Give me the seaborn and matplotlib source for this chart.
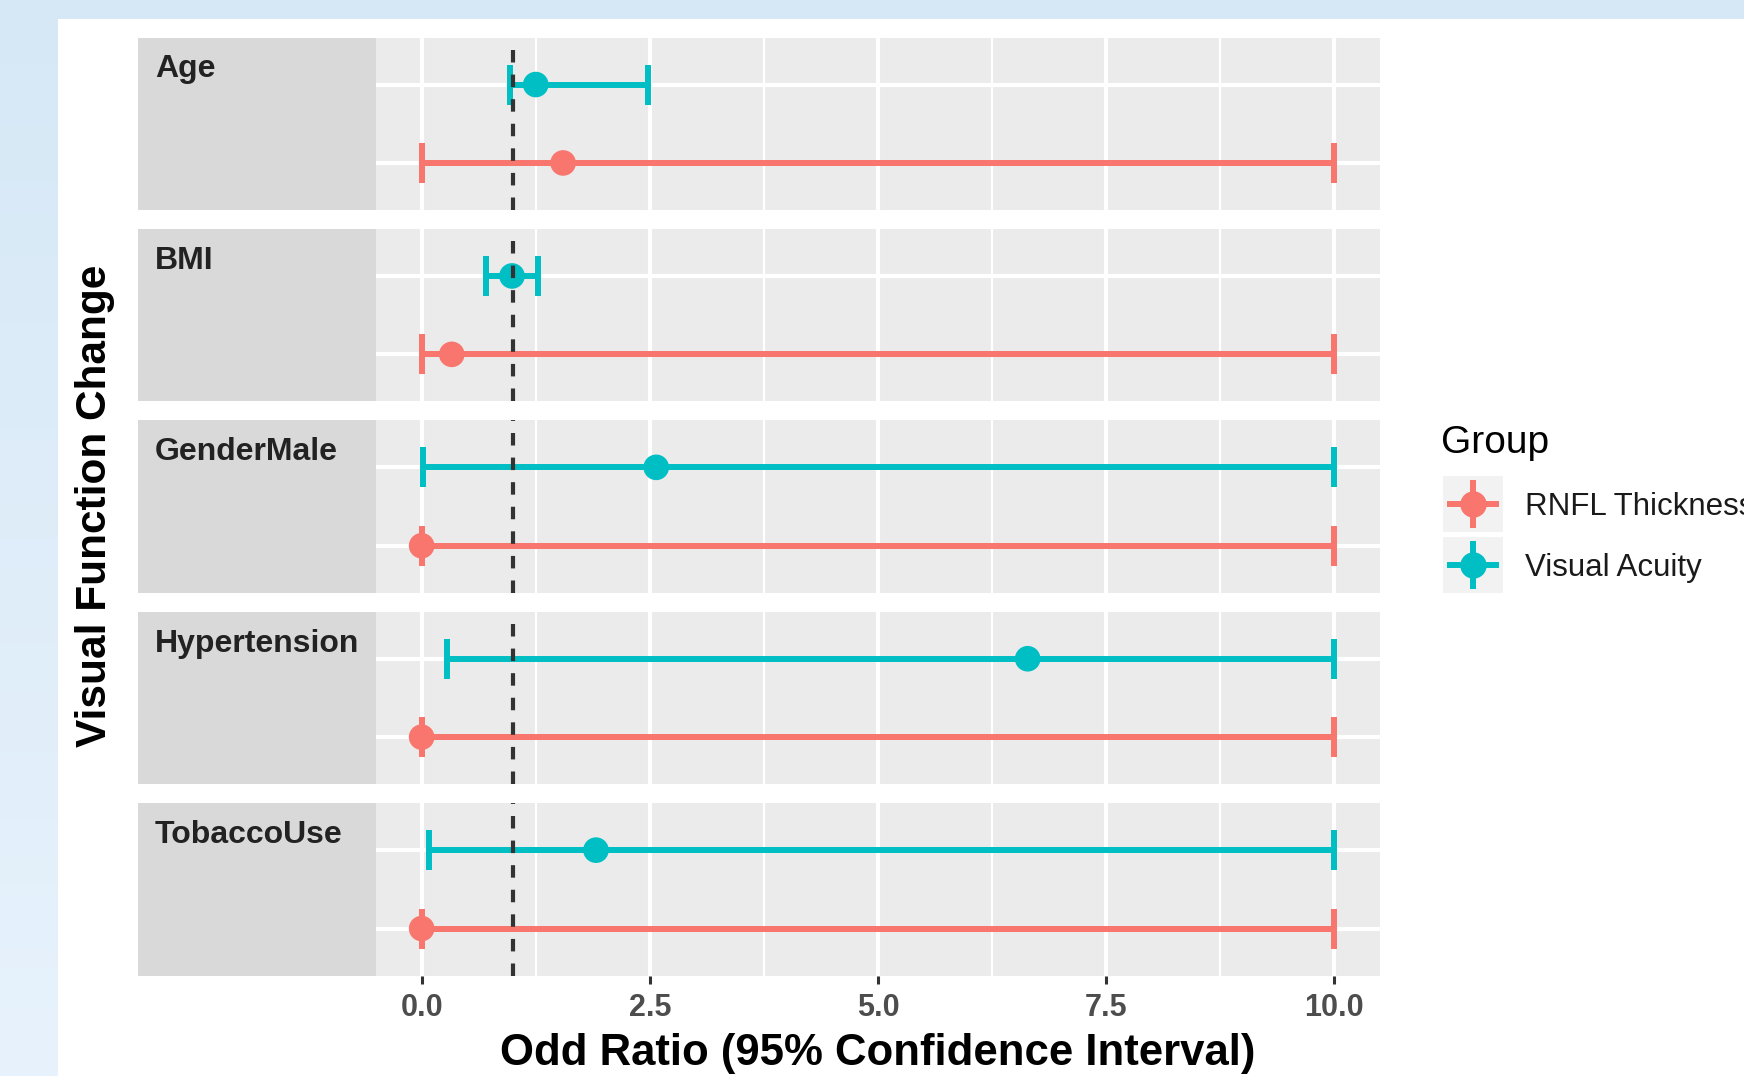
import numpy as np
import pandas as pd
import matplotlib
matplotlib.use("Agg")
import matplotlib.pyplot as plt
from matplotlib.patches import Rectangle
from matplotlib.lines import Line2D
import seaborn as sns

# ---------------- data ----------------
variables = ["Age", "BMI", "GenderMale", "Hypertension", "TobaccoUse"]
groups = ["RNFL Thickness", "Visual Acuity"]
rnfl_or = [1.55, 0.33, 0.0, 0.0, 0.0]
rnfl_lo = [0.0, 0.0, 0.0, 0.0, 0.0]
rnfl_hi = [10.0, 10.0, 10.0, 10.0, 10.0]
va_or = [1.25, 0.99, 2.57, 6.64, 1.91]
va_lo = [0.97, 0.70, 0.01, 0.28, 0.08]
va_hi = [2.48, 1.28, 10.0, 10.0, 10.0]
x_ticks = [0.0, 2.5, 5.0, 7.5, 10.0]
x_tick_labels = ["0.0", "2.5", "5.0", "7.5", "10.0"]
ref_line = 1.0
group_colors = ["#F8766D", "#00BFC4"]

rows = []
for i, v in enumerate(variables):
    rows.append(dict(var=v, group=groups[0], est=rnfl_or[i], lo=rnfl_lo[i], hi=rnfl_hi[i], ypos=1))
    rows.append(dict(var=v, group=groups[1], est=va_or[i], lo=va_lo[i], hi=va_hi[i], ypos=2))
df = pd.DataFrame(rows)
palette = dict(zip(groups, group_colors))

# ---------------- style ----------------
sns.set_theme(style="darkgrid")
plt.rcParams["font.family"] = ["Liberation Sans", "DejaVu Sans"]

W, H = 1744, 1076
fig = plt.figure(figsize=(W / 100, H / 100), dpi=100)

def fx(x):
    return x / W

def fy(y):
    return 1 - y / H

# background: light blue gradient + white card
bg = fig.add_axes([0, 0, 1, 1], zorder=-10)
grad = np.linspace(0, 1, 256).reshape(-1, 1)
c_top = np.array(matplotlib.colors.to_rgb("#D6E8F6"))
c_bot = np.array(matplotlib.colors.to_rgb("#E7F2FC"))
img = c_top[None, None, :] * (1 - grad[:, :, None]) + c_bot[None, None, :] * grad[:, :, None]
bg.imshow(img, aspect="auto", extent=[0, 1, 0, 1], origin="upper")
bg.add_patch(Rectangle((fx(58), 0), 1 - fx(58), fy(19), transform=bg.transAxes,
                       facecolor="white", edgecolor="none"))
bg.set_xlim(0, 1)
bg.set_ylim(0, 1)
bg.axis("off")

panel_left, panel_right = 376, 1380
strip_left = 138
panel_h = 172.5
tops = [37.5 + i * 191.4 for i in range(5)]

for i, var in enumerate(variables):
    top = tops[i]
    # strip
    sax = fig.add_axes([fx(strip_left), fy(top + panel_h), fx(panel_left - strip_left), panel_h / H])
    sax.set_facecolor("#D9D9D9")
    sax.set_xticks([])
    sax.set_yticks([])
    for s in sax.spines.values():
        s.set_visible(False)
    fig.text(fx(155), fy(top + 40), var, fontsize=23, fontweight="bold",
             color="#222222", ha="left", va="baseline")

    ax = fig.add_axes([fx(panel_left), fy(top + panel_h), fx(panel_right - panel_left), panel_h / H])
    ax.set_facecolor("#EBEBEB")
    sub = df[df["var"] == var]
    for _, r in sub.iterrows():
        ax.errorbar(x=[r["est"]], y=[r["ypos"]],
                    xerr=[[r["est"] - r["lo"]], [r["hi"] - r["est"]]],
                    fmt="none", ecolor=palette[r["group"]], elinewidth=4.3,
                    capsize=14.5, capthick=4.3, zorder=3)
    sns.scatterplot(data=sub, x="est", y="ypos", hue="group", palette=palette,
                    s=340, edgecolor="none", linewidth=0, legend=False, ax=ax, zorder=4)
    ax.axvline(ref_line, color="#333333", lw=3.0, dashes=(3.0, 2.9), zorder=5)

    ax.set_xlim(-0.5, 10.5)
    ax.set_ylim(0.4, 2.6)
    ax.set_xticks(x_ticks)
    ax.set_xticks([1.25, 3.75, 6.25, 8.75], minor=True)
    ax.set_yticks([1, 2])
    ax.grid(True, which="major", color="white", lw=3.0)
    ax.grid(True, which="minor", axis="x", color="white", lw=1.6)
    ax.set_axisbelow(True)
    for s in ax.spines.values():
        s.set_visible(False)
    ax.set_xlabel("")
    ax.set_ylabel("")
    ax.tick_params(axis="y", left=False, labelleft=False)
    ax.tick_params(axis="x", which="minor", bottom=False)
    if i < len(variables) - 1:
        ax.tick_params(axis="x", which="major", bottom=False, labelbottom=False)
    else:
        ax.set_xticklabels(x_tick_labels)
        ax.tick_params(axis="x", which="major", bottom=True, labelbottom=True,
                       length=5.5, width=2.2, color="#333333", pad=7,
                       labelsize=22, labelcolor="#4D4D4D")
        for lab in ax.get_xticklabels():
            lab.set_fontweight("bold")

# axis titles
fig.text(fx(878), fy(1065), "Odd Ratio (95% Confidence Interval)", fontsize=31.5,
         fontweight="bold", color="black", ha="center", va="baseline")
fig.text(fx(95), fy(506), "Visual Function Change", fontsize=30.5, fontweight="bold",
         color="black", ha="center", va="center", rotation=90)

# legend
fig.text(fx(1441), fy(453), "Group", fontsize=28, color="black", ha="left", va="baseline")
key_tops = [476, 537]
for k, g in enumerate(groups):
    kt = key_tops[k]
    kax = fig.add_axes([fx(1443), fy(kt + 56), fx(60), 56 / H])
    kax.set_facecolor("#F2F2F2")
    kax.set_xlim(0, 1)
    kax.set_ylim(0, 1)
    kax.set_xticks([])
    kax.set_yticks([])
    for s in kax.spines.values():
        s.set_visible(False)
    col = group_colors[k]
    kax.add_line(Line2D([0.07, 0.93], [0.5, 0.5], color=col, lw=4.3, solid_capstyle="butt"))
    kax.add_line(Line2D([0.5, 0.5], [0.07, 0.93], color=col, lw=4.3, solid_capstyle="butt"))
    kax.plot([0.5], [0.5], marker="o", markersize=19, color=col, markeredgewidth=0)
    fig.text(fx(1525), fy(kt + 28 + 11), g, fontsize=22.5, color="#1A1A1A",
             ha="left", va="baseline")

fig.savefig("out.png", dpi=100)
